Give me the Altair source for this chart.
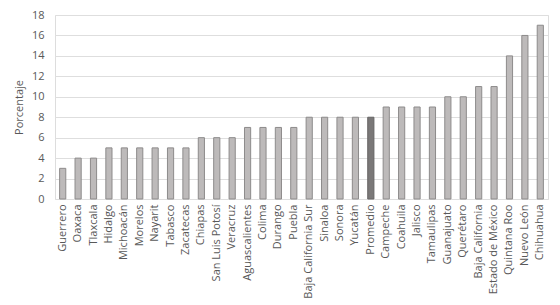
import altair as alt
import pandas as pd

estados = ["Guerrero", "Oaxaca", "Tlaxcala", "Hidalgo", "Michoacán", "Morelos", "Nayarit",
           "Tabasco", "Zacatecas", "Chiapas", "San Luis Potosí", "Veracruz", "Aguascalientes",
           "Colima", "Durango", "Puebla", "Baja California Sur", "Sinaloa", "Sonora", "Yucatán",
           "Promedio", "Campeche", "Coahuila", "Jalisco", "Tamaulipas", "Guanajuato", "Querétaro",
           "Baja California", "Estado de México", "Quintana Roo", "Nuevo León", "Chihuahua"]
porcentaje = [3, 4, 4, 5, 5, 5, 5, 5, 5, 6, 6, 6, 7, 7, 7, 7, 8, 8, 8, 8,
              8, 9, 9, 9, 9, 10, 10, 11, 11, 14, 16, 17]

df = pd.DataFrame({"estado": estados, "pct": porcentaje,
                   "tipo": ["prom" if e == "Promedio" else "edo" for e in estados]})

FONT = "Open Sans"

chart = alt.Chart(df).mark_bar(strokeWidth=1).encode(
    x=alt.X("estado:N", sort=estados, title=None,
            scale=alt.Scale(paddingInner=0.6, paddingOuter=0.3),
            axis=alt.Axis(labelAngle=270, labelPadding=5, ticks=False, domain=False,
                          labelFont=FONT, labelFontSize=11, labelColor="#595959",
                          labelLimit=200)),
    y=alt.Y("pct:Q", title="Porcentaje",
            scale=alt.Scale(domain=[0, 18]),
            axis=alt.Axis(values=list(range(0, 19, 2)), ticks=False, domain=False,
                          labelFont=FONT, labelFontSize=11, labelColor="#595959",
                          labelPadding=11, titleFont=FONT, titleFontSize=11,
                          titleFontWeight="normal", titleColor="#595959", titlePadding=7,
                          gridColor="#dedede", gridWidth=1)),
    color=alt.Color("tipo:N", scale=alt.Scale(domain=["edo", "prom"],
                                               range=["#bdbaba", "#7a7878"]), legend=None),
    stroke=alt.Stroke("tipo:N", scale=alt.Scale(domain=["edo", "prom"],
                                                 range=["#8d8b8b", "#666464"]), legend=None),
).properties(
    width=493, height=184,
    autosize=alt.AutoSizeParams(type="none"),
    padding={"left": 47, "top": 7, "right": 4, "bottom": 110},
).configure_view(stroke=None).configure(background="white")

chart.save("out.html", embed_options={"renderer": "svg", "actions": False})
